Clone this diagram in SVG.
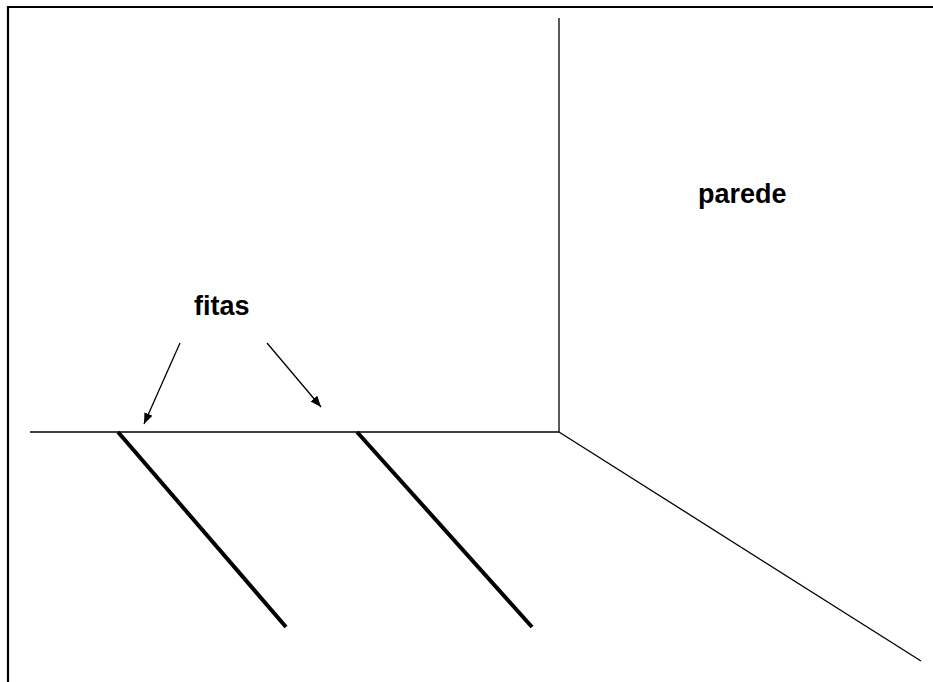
<svg xmlns="http://www.w3.org/2000/svg" width="933" height="682" viewBox="0 0 933 682">
<defs>
<style>
.thin{stroke:#000;stroke-width:1.3;fill:none}
.thick{stroke:#000;stroke-width:4;fill:none}
.lbl{font-family:"Liberation Sans",Arial,sans-serif;font-weight:bold;font-size:27px;fill:#000}
</style>
<marker id="ah" markerWidth="11" markerHeight="11" refX="10" refY="5" orient="auto" markerUnits="userSpaceOnUse" viewBox="0 0 10 10">
<path d="M0,1 L10,5 L0,9 Z" fill="#000"/>
</marker>
</defs>
<rect width="933" height="682" fill="#fff"/>
<g id="border">
<path d="M8,682 V7 H933" stroke="#000" stroke-width="2.2" fill="none"/>
</g>
<g id="room">
<line class="thin" x1="559" y1="18" x2="559" y2="432"/>
<line class="thin" x1="30" y1="432" x2="559" y2="432"/>
<line class="thin" x1="559" y1="432" x2="921" y2="661"/>
</g>
<g id="fitas-lines">
<line class="thick" x1="118" y1="432" x2="286" y2="627"/>
<line class="thick" x1="357" y1="432" x2="532" y2="627"/>
</g>
<g id="connectors">
<line class="thin" x1="180" y1="343" x2="144" y2="424" marker-end="url(#ah)"/>
<line class="thin" x1="267" y1="343" x2="321" y2="407" marker-end="url(#ah)"/>
</g>
<g id="label-fitas"><text class="lbl" x="194" y="315">fitas</text></g>
<g id="label-parede"><text class="lbl" x="698" y="203">parede</text></g>
</svg>
